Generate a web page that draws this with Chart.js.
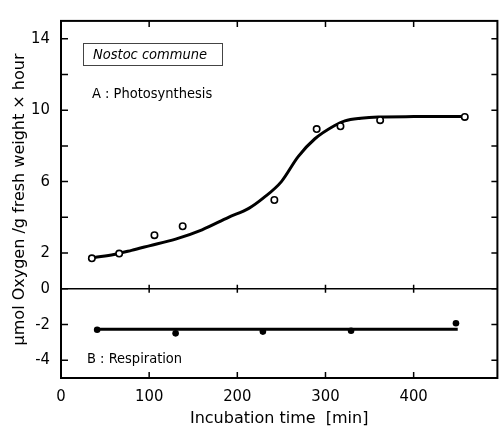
<!DOCTYPE html>
<html>
<head>
<meta charset="utf-8">
<script src="https://cdn.jsdelivr.net/npm/chart.js@4.4.1/dist/chart.umd.min.js"></script>
<style>
html,body{margin:0;padding:0;background:#fff;}
#wrap{width:503px;height:428px;position:relative;}
</style>
</head>
<body>
<div id="wrap"><canvas id="c" width="503" height="428"></canvas></div>
<script>
// Photosynthesis (A) measured points
const timeA = [35, 66, 106, 138, 242, 290, 317, 362, 458];
const photosynthesis = [1.7, 1.97, 3.0, 3.5, 4.97, 8.94, 9.1, 9.44, 9.62];
// Photosynthesis fitted curve
const timeFitA = [38, 60, 80, 100, 130, 160, 190, 213, 230, 250, 269, 288, 310, 322, 340, 360, 400, 455];
const fitA = [1.75, 1.92, 2.15, 2.4, 2.78, 3.3, 4.0, 4.5, 5.1, 6.0, 7.4, 8.4, 9.13, 9.4, 9.55, 9.62, 9.64, 9.65];
// Respiration (B) measured points
const timeB = [41, 130, 229, 329, 448];
const respiration = [-2.3, -2.5, -2.4, -2.35, -1.93];
// Respiration fitted line
const timeFitB = [41, 450];
const fitB = [-2.27, -2.27];
// Tick labels
const xTicks = [0, 100, 200, 300, 400];
const yTicks = [-4, -2, 0, 2, 4, 6, 8, 10, 12, 14];
const yLabeled = [-4, -2, 0, 2, 6, 10, 14];

const FAM = "'DejaVu Sans Condensed', 'DejaVu Sans', sans-serif";
const FAMW = "'DejaVu Sans', sans-serif";
const pts = (xs, ys) => xs.map((x, i) => ({x: x, y: ys[i]}));

const framePlugin = {
  id: 'frame',
  afterDatasetsDraw(chart) {
    const {ctx, chartArea: a, scales: {x, y}} = chart;
    ctx.save();
    ctx.strokeStyle = '#000';
    ctx.lineWidth = 2;
    ctx.strokeRect(a.left, a.top, a.right - a.left, a.bottom - a.top);
    ctx.lineWidth = 1.5;
    ctx.beginPath();
    yTicks.forEach(v => {
      const py = y.getPixelForValue(v);
      ctx.moveTo(a.left, py); ctx.lineTo(a.left + 7, py);
      ctx.moveTo(a.right, py); ctx.lineTo(a.right - 6, py);
    });
    const y0 = y.getPixelForValue(0);
    xTicks.slice(1).forEach(v => {
      const px = x.getPixelForValue(v);
      ctx.moveTo(px, a.bottom); ctx.lineTo(px, a.bottom - 6);
      ctx.moveTo(px, a.top); ctx.lineTo(px, a.top + 6);
      ctx.moveTo(px, y0 - 4); ctx.lineTo(px, y0 + 4);
    });
    ctx.stroke();
    // annotations
    ctx.fillStyle = '#000';
    ctx.textBaseline = 'middle';
    ctx.lineWidth = 1;
    ctx.strokeStyle = '#444';
    ctx.strokeRect(83.5, 43.5, 139, 22);
    ctx.font = "italic 14.5px " + FAM;
    ctx.fillText('Nostoc commune', 93, 55);
    ctx.font = "14.5px " + FAM;
    ctx.fillText('A : Photosynthesis', 92, 94);
    ctx.fillText('B : Respiration', 87, 359);
    ctx.restore();
  }
};

new Chart(document.getElementById('c'), {
  type: 'scatter',
  data: {
    datasets: [
      {
        type: 'line', data: pts(timeFitA, fitA), borderColor: '#000', borderWidth: 3,
        pointRadius: 0, cubicInterpolationMode: 'monotone', fill: false, order: 2
      },
      {
        type: 'line', data: pts(timeFitB, fitB), borderColor: '#000', borderWidth: 3,
        pointRadius: 0, fill: false, order: 2
      },
      {
        data: pts(timeA, photosynthesis), pointRadius: 3.2, pointBorderWidth: 1.6,
        pointBackgroundColor: '#fff', pointBorderColor: '#000', order: 0
      },
      {
        data: pts(timeB, respiration), pointRadius: 3.3, pointBorderWidth: 0,
        pointBackgroundColor: '#000', pointBorderColor: '#000', order: 0
      }
    ]
  },
  options: {
    responsive: false,
    animation: false,
    events: [],
    layout: {padding: {top: 13, right: 3, left: 0, bottom: 0}},
    plugins: {legend: {display: false}, tooltip: {enabled: false}},
    scales: {
      x: {
        type: 'linear', min: 0, max: 495,
        afterBuildTicks: s => { s.ticks = xTicks.map(v => ({value: v})); },
        afterFit: s => { s.height = 50; },
        border: {display: false},
        grid: {display: false, drawTicks: false},
        ticks: {color: '#000', padding: 9, font: {family: FAM, size: 16.5}, maxRotation: 0},
        title: {display: true, text: 'Incubation time  [min]', color: '#000',
          font: {family: FAMW, size: 16}, padding: {top: 0, bottom: 0}}
      },
      y: {
        type: 'linear', min: -5, max: 15,
        afterBuildTicks: s => { s.ticks = yTicks.map(v => ({value: v})); },
        afterFit: s => { s.width = 61; },
        border: {display: false},
        grid: {
          drawTicks: false,
          color: c => (c.tick && c.tick.value === 0) ? '#000' : 'rgba(0,0,0,0)',
          lineWidth: c => (c.tick && c.tick.value === 0) ? 1.6 : 0
        },
        ticks: {
          color: '#000', padding: 11, font: {family: FAM, size: 16.5},
          callback: v => yLabeled.includes(v) ? (v < 0 ? '-' + Math.abs(v) : String(v)) : ''
        },
        title: {display: true, text: 'µmol Oxygen /g fresh weight × hour', color: '#000',
          font: {family: FAMW, size: 16}, padding: {top: 10, bottom: 0}}
      }
    }
  },
  plugins: [framePlugin]
});
</script>
</body>
</html>
